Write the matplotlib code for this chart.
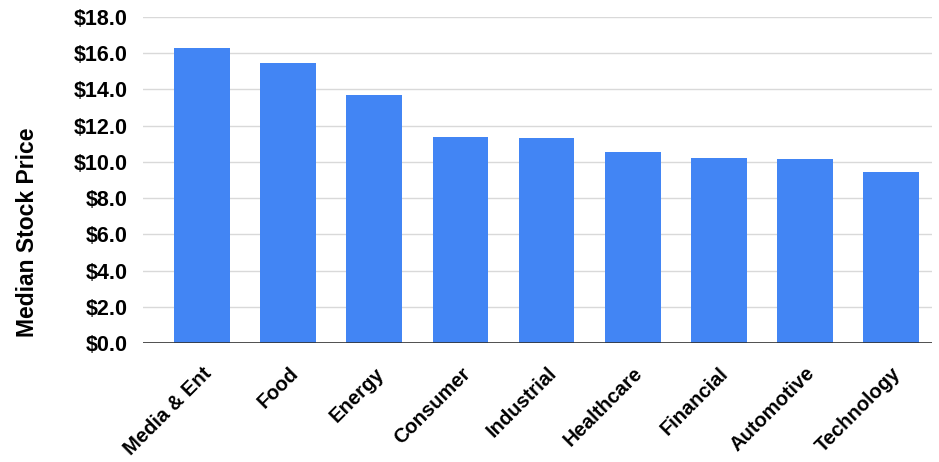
import matplotlib
matplotlib.use("Agg")
import matplotlib.pyplot as plt
from matplotlib.ticker import FuncFormatter, MultipleLocator

sectors = ["Media & Ent", "Food", "Energy", "Consumer", "Industrial",
           "Healthcare", "Financial", "Automotive", "Technology"]
median_price = [16.3, 15.45, 13.7, 11.4, 11.3, 10.55, 10.24, 10.16, 9.45]

plt.rcParams["font.family"] = ["Liberation Sans", "DejaVu Sans"]

fig = plt.figure(figsize=(9.39, 4.62), dpi=100)
ax = fig.add_axes([143 / 939, 1 - 343 / 462, (932 - 143) / 939, (343 - 17) / 462])

x = range(len(sectors))
ax.bar(x, median_price, width=0.65, color="#4285F4", zorder=3)

ax.set_ylim(0, 18)
ax.set_xlim(-0.69, len(sectors) - 0.52)
ax.yaxis.set_major_locator(MultipleLocator(2))
ax.yaxis.set_major_formatter(FuncFormatter(lambda v, _: f"${v:.1f}"))
ax.grid(axis="y", color="#d9d9d9", linewidth=1, zorder=0)
ax.axhline(0, color="#333333", linewidth=1.2, zorder=4)

for s in ax.spines.values():
    s.set_visible(False)
ax.tick_params(axis="both", length=0)
ax.tick_params(axis="y", pad=11, labelsize=15.5)
ax.tick_params(axis="x", pad=15)
ax.set_xticks(list(x))
ax.set_xticklabels(sectors, rotation=45, ha="right", rotation_mode="anchor",
                   fontsize=14.5, fontweight="bold")
for lbl in ax.get_yticklabels():
    lbl.set_fontweight("bold")

fig.text(28 / 939, 1 - 232 / 462, "Median Stock Price", rotation=90,
         ha="center", va="center", fontsize=16.5, fontweight="bold")

fig.savefig("out.png", dpi=100)
